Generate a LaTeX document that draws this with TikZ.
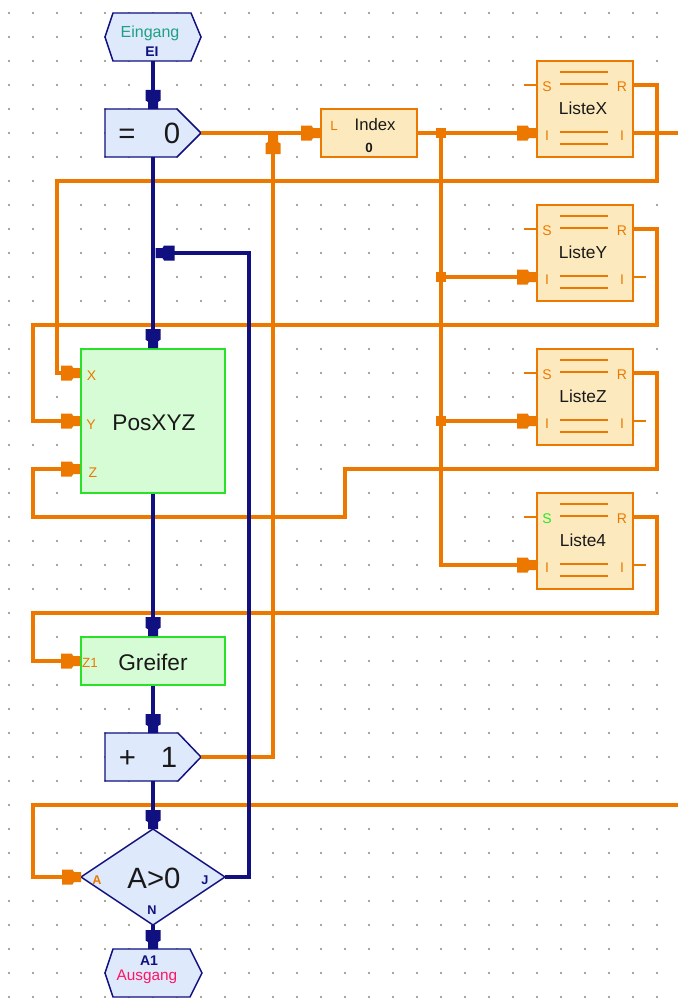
\documentclass[tikz,border=0pt]{standalone}
\usepackage{fontspec}
\setmainfont{Liberation Sans}
\usetikzlibrary{calc}
\definecolor{flow}{RGB}{16,16,128}
\definecolor{orng}{RGB}{236,120,0}
\definecolor{bfill}{RGB}{222,233,252}
\definecolor{ofill}{RGB}{253,233,190}
\definecolor{gfill}{RGB}{214,252,214}
\definecolor{gline}{RGB}{40,225,40}
\definecolor{tealc}{RGB}{30,160,130}
\definecolor{pinkc}{RGB}{255,20,100}
\definecolor{dotc}{RGB}{165,165,165}
\definecolor{txtc}{RGB}{25,25,25}
\definecolor{sgreen}{RGB}{40,230,40}
\tikzset{
  pics/tipx/.style={code={\fill[#1] (0,-5) -- (-7,-5) -- (-8.5,-7.5) -- (-19,-7.5) -- (-19,7.5) -- (-8.5,7.5) -- (-7,5) -- (0,5) -- cycle;}},
  oline/.style={draw=orng,line width=2.6pt},
  bline/.style={draw=flow,line width=3.2pt},
  stub/.style={draw=orng,line width=2.2pt},
  ithin/.style={draw=orng,line width=1.5pt},
  bshape/.style={fill=bfill,draw=flow,line width=1.1pt},
  obox/.style={rectangle,fill=ofill,draw=orng,line width=1.5pt,inner sep=0pt},
  lst/.style={obox,minimum width=72pt,minimum height=72pt},
  gbox/.style={rectangle,fill=gfill,draw=gline,line width=1.2pt,inner sep=0pt},
  txt/.style={anchor=base,inner sep=0pt,text=txtc},
  big/.style={txt,font=\fontsize{22}{26}\selectfont},
  mid/.style={txt,font=\fontsize{17}{20}\selectfont},
  lname/.style={txt,font=\fontsize{13}{15}\selectfont},
  plab/.style={anchor=base,inner sep=0pt,text=orng,font=\fontsize{10.5}{12}\selectfont},
  nlab/.style={anchor=base,inner sep=0pt,text=flow,font=\bfseries\fontsize{9.5}{11}\selectfont},
}
\begin{document}
\begin{tikzpicture}[x=0.75pt,y=-0.75pt]
\useasboundingbox (0,0) rectangle (678,999);
\fill[white] (0,0) rectangle (678,999);
% grid dots
\foreach \i in {0,...,27}{\foreach \j in {0,...,41}{
  \fill[dotc] ({9+24*\i-0.7},{13+24*\j-0.7}) rectangle ++(1.4,1.4);}}

% ---------- boxes ----------
\node[lst] (lx) at (585,109) {};
\node[lst] (ly) at (585,253) {};
\node[lst] (lz) at (585,397) {};
\node[lst] (l4) at (585,541) {};
\node[obox,minimum width=72pt,minimum height=36pt] (idx) at (369,133) {};
\node[gbox,minimum width=108pt,minimum height=108pt] (pos) at (153,421) {};
\node[gbox,minimum width=108pt,minimum height=36pt] (grf) at (153,661) {};

\draw[bshape] (113,13) -- (191,13) -- (201,37) -- (191,61) -- (113,61) -- (105,37) -- cycle;
\draw[bshape] (105,109) -- (177,109) -- (201,133) -- (177,157) -- (105,157) -- cycle;
\draw[bshape] (105,733) -- (178,733) -- (201,757) -- (178,781) -- (105,781) -- cycle;
\draw[bshape] (153,829) -- (225,877) -- (153,925) -- (81,877) -- cycle;
\draw[bshape] (113,949) -- (190,949) -- (202,973) -- (190,997) -- (113,997) -- (105,973) -- cycle;

% named ports
\coordinate (ein-s) at (153,61);
\coordinate (eq-n) at (153,109);
\coordinate (eq-s) at (153,157);
\coordinate (eq-e) at (201,133);
\coordinate (pl-n) at (153,733);
\coordinate (pl-s) at (153,781);
\coordinate (pl-e) at (201,757);
\coordinate (plin) at (273,135);
\coordinate (dia-n) at (153,829);
\coordinate (dia-s) at (153,925);
\coordinate (dia-w) at (81,877);
\coordinate (dia-e) at (225,877);
\coordinate (aus-n) at (153,949);
\coordinate (loopin) at (155.5,253);
\coordinate (jx) at (441,133);
\coordinate (jy) at (441,277);
\coordinate (jz) at (441,421);
\coordinate (posX) at ($(pos.west)+(0,-48)$);
\coordinate (posY) at (pos.west);
\coordinate (posZ) at ($(pos.west)+(0,48)$);
\coordinate (grfZ) at (grf.west);
\foreach \n in {lx,ly,lz,l4}{
  \coordinate (\n S) at ($(\n.west)+(0,-24)$);
  \coordinate (\n I) at ($(\n.west)+(0,24)$);
  \coordinate (\n R) at ($(\n.east)+(0,-24)$);
  \coordinate (\n O) at ($(\n.east)+(0,24)$);
}

% list internals
\foreach \n/\sc in {lx/orng,ly/orng,lz/orng,l4/sgreen}{
  \draw[ithin] ($(\n.north west)+(24,12)$) -- ++(48,0);
  \draw[ithin] ($(\n.north west)+(24,24)$) -- ++(48,0);
  \draw[ithin] ($(\n.north west)+(24,72)$) -- ++(48,0);
  \draw[ithin] ($(\n.north west)+(24,84)$) -- ++(48,0);
  \draw[stub] ($(\n S)+(-12,0)$) -- (\n S);
  \node[plab,text=\sc] at ($(\n S)+(11,6.5)$) {S};
  \node[plab] at ($(\n R)+(-12,6.5)$) {R};
  \node[plab] at ($(\n I)+(11,7)$) {I};
  \node[plab] at ($(\n O)+(-12,7)$) {I};
}
\foreach \n in {ly,lz,l4}{ \draw[stub] (\n O) -- ++(12,0); }

% ---------- orange connectors ----------
\draw[oline] (eq-e) -- (idx.west);
\draw[oline] (pl-e) -| (plin);
\draw[oline] (idx.east) -- (lxI);
\draw[oline] (jx) |- (l4I);
\draw[oline] (jy) -- (lyI);
\draw[oline] (jz) -- (lzI);
\foreach \j in {jx,jy,jz}{ \fill[orng] ($(\j)+(-5,-5)$) rectangle ++(10,10); }
\draw[oline] (lxO) -- (678,133);
\draw[oline] (lxR) -| (657,181) -| (57,373) -- (posX);
\draw[oline] (lyR) -| (657,325) -| (33,421) -- (posY);
\draw[oline] (lzR) -| (657,469) -| (345,517) -| (33,469) -- (posZ);
\draw[oline] (l4R) -| (657,613) -| (33,661) -- (grfZ);
\draw[oline] (678,805) -| (33,877) -- (dia-w);

% ---------- flow connectors ----------
\draw[bline] (ein-s) -- (eq-n);
\draw[bline] (eq-s) -- (pos.north);
\draw[bline] (pos.south) -- (grf.north);
\draw[bline] (grf.south) -- (pl-n);
\draw[bline] (pl-s) -- (dia-n);
\draw[bline] (dia-s) -- (aus-n);
\draw[bline] (dia-e) -| (249,253) -- (loopin);

% ---------- arrow tips ----------
\foreach \c in {eq-n,pos.north,grf.north,pl-n,dia-n,aus-n}{ \pic[rotate=-90] at (\c) {tipx=flow}; }
\pic[rotate=180] at (loopin) {tipx=flow};
\foreach \c in {idx.west,lxI,lyI,lzI,l4I,posX,posY,posZ,grfZ,dia-w}{ \pic at (\c) {tipx=orng}; }
\pic[rotate=90] at (plin) {tipx=orng};

% ---------- texts ----------
\node[anchor=base,inner sep=0pt,text=tealc,font=\fontsize{12}{14}\selectfont] (tein) at (150,38) {Eingang};
\node[nlab,font=\bfseries\fontsize{10.5}{12}\selectfont] (tei) at (152,57) {EI};
\node[big] (teq) at (127,143) {=};
\node[big] (teq0) at (172,143) {0};
\node[big] (tpl) at (127.5,767) {+};
\node[big] (tpl1) at (169,767) {1};
\node[big] (tdia) at (154,888) {A>0};
\node[plab,font=\fontsize{10}{12}\selectfont] (tL) at (334,130) {L};
\node[txt,font=\fontsize{12.5}{14}\selectfont] (tidx) at (375,130) {Index};
\node[txt,font=\bfseries\fontsize{10}{12}\selectfont] (tidx0) at (369,152) {0};
\node[lname] (tlx) at (583,114) {ListeX};
\node[lname] (tly) at (583,258) {ListeY};
\node[lname] (tlz) at (583,402) {ListeZ};
\node[lname] (tl4) at (583,546) {Liste4};
\node[mid] (tpos) at (154,430) {PosXYZ};
\node[mid] (tgrf) at (153,670) {Greifer};
\node[plab] (tX) at (91.5,380) {X};
\node[plab] (tY) at (91,429) {Y};
\node[plab] (tZ) at (93,477) {Z};
\node[plab,font=\fontsize{10}{12}\selectfont] (tZ1) at (90,667) {Z1};
\node[plab,font=\bfseries\fontsize{9.5}{11}\selectfont] (tA) at (97,884) {A};
\node[nlab] (tJ) at (205,884) {J};
\node[nlab] (tN) at (152,914) {N};
\node[nlab,font=\bfseries\fontsize{10.5}{12}\selectfont] (ta1) at (149,965) {A1};
\node[anchor=base,inner sep=0pt,text=pinkc,font=\fontsize{11.5}{13}\selectfont] (taus) at (147,980) {Ausgang};
\end{tikzpicture}
\end{document}
